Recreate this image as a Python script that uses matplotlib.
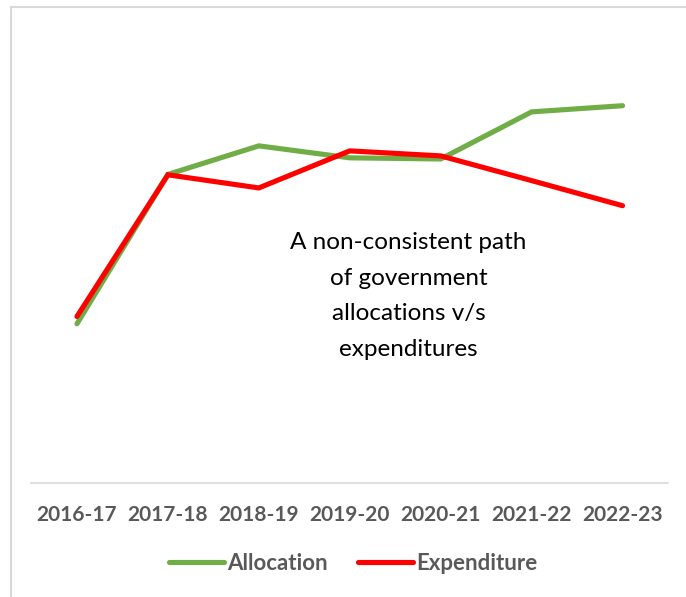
import matplotlib
matplotlib.use('Agg')
import matplotlib.pyplot as plt
from matplotlib.patches import Rectangle

# Allocation vs expenditure by financial year
anos = ['2016-17', '2017-18', '2018-19', '2019-20', '2020-21', '2021-22', '2022-23']
alocacao = [4130, 8000, 8740, 8430, 8400, 9620, 9780]
despesa = [4320, 7990, 7650, 8610, 8480, 7840, 7190]

verde = '#70AD47'
vermelho = '#FF0000'
cinza = '#595959'

plt.rcParams['font.family'] = ['Lato', 'DejaVu Sans']

fig = plt.figure(figsize=(6.86, 5.97), dpi=100)
ax = fig.add_axes([0.0459, 0.1905, 0.9279, 0.776])

x = range(len(anos))
ax.plot(x, alocacao, color=verde, lw=3.7, solid_capstyle='round',
        solid_joinstyle='miter', label='Allocation')
ax.plot(x, despesa, color=vermelho, lw=3.7, solid_capstyle='round',
        solid_joinstyle='miter', label='Expenditure')

ax.set_xlim(-0.5, len(anos) - 0.5)
ax.set_ylim(0, 12000)
ax.set_xticks(list(x))
ax.set_xticklabels(anos, fontsize=15, fontweight='bold', color=cinza)
ax.tick_params(axis='x', length=0, pad=16)
ax.set_yticks([])
for lado in ['top', 'left', 'right']:
    ax.spines[lado].set_visible(False)
ax.spines['bottom'].set_color('#d9d9d9')
ax.spines['bottom'].set_linewidth(1.2)

# texto no meio do grafico
fig.text(408.5 / 686, 1 - 296 / 597,
         'A non-consistent path\nof government\nallocations v/s\nexpenditures',
         ha='center', va='center', multialignment='center',
         fontsize=17.5, color='black', linespacing=1.85)

leg = fig.legend(loc='center', bbox_to_anchor=(353.5 / 686, 1 - 563 / 597),
                 ncol=2, frameon=False, handlelength=2.45, handletextpad=0.18,
                 columnspacing=1.35, prop={'size': 16, 'weight': 'bold'})
for t in leg.get_texts():
    t.set_color(cinza)

# moldura cinza clara
fig.patches.append(Rectangle((11 / 686, -0.1), 1.2, 1 - 7 / 597 + 0.1,
                             transform=fig.transFigure, fill=False,
                             edgecolor='#d9d9d9', lw=1.5))

plt.savefig('out.png', dpi=100)
